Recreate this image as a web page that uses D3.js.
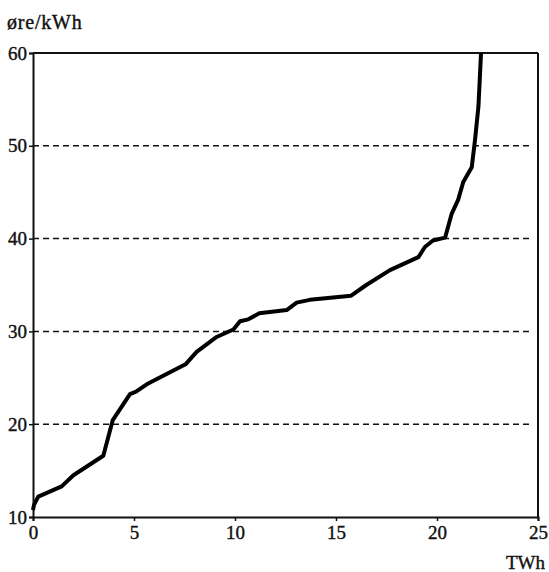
<!DOCTYPE html>
<html><head><meta charset="utf-8">
<script src="https://cdn.jsdelivr.net/npm/d3@7"></script>
<style>
html,body{margin:0;padding:0;background:#fff;}
</style></head>
<body><svg id="c" width="549" height="572"></svg>
<script>
const energyTWh = [0, 0.05, 0.26, 1.42, 2.0, 3.48, 3.95, 4.8, 5.1, 5.63, 7.55, 8.1, 9.09, 9.92, 10.25, 10.66, 11.2, 12.56, 13.05, 13.7, 15.75, 16.5, 17.67, 19.08, 19.4, 19.8, 20.4, 20.73, 21.05, 21.3, 21.72, 21.88, 22.05, 22.18];
const priceOre = [10.75, 11.3, 12.2, 13.3, 14.5, 16.6, 20.45, 23.25, 23.5, 24.3, 26.45, 27.8, 29.4, 30.2, 31.1, 31.3, 31.95, 32.3, 33.1, 33.4, 33.85, 35.0, 36.6, 38.0, 39.1, 39.8, 40.1, 42.7, 44.2, 46.1, 47.7, 50.6, 54.2, 60];
const xTicks = [0, 5, 10, 15, 20, 25];
const yTicks = [10, 20, 30, 40, 50, 60];
const gridValues = [20, 30, 40, 50];
const yLabel = "øre/kWh";
const xLabel = "TWh";

const FONT = "'Liberation Serif', 'Times New Roman', serif";
const svg = d3.select("#c");
const x = d3.scaleLinear().domain([0, 25]).range([33, 538]);
const y = d3.scaleLinear().domain([10, 60]).range([517, 53]);

svg.append("g").selectAll("line").data(gridValues).join("line")
  .attr("x1", x(0)).attr("x2", 533)
  .attr("y1", d => y(d)).attr("y2", d => y(d))
  .attr("stroke", "#111").attr("stroke-width", 1.5)
  .attr("stroke-dasharray", "6,4");

svg.append("line").attr("x1", x(0)).attr("x2", x(25)).attr("y1", y(60)).attr("y2", y(60))
  .attr("stroke", "#111").attr("stroke-width", 2);
svg.append("line").attr("x1", x(25)).attr("x2", x(25)).attr("y1", y(60)).attr("y2", y(10))
  .attr("stroke", "#111").attr("stroke-width", 2);

const xAxis = svg.append("g").attr("transform", `translate(0,${y(10)})`)
  .call(d3.axisBottom(x).tickValues(xTicks).tickSize(4).tickPadding(5).tickFormat(d3.format("d")));
const yAxis = svg.append("g").attr("transform", `translate(${x(0)},0)`)
  .call(d3.axisLeft(y).tickValues(yTicks).tickSize(4).tickPadding(2).tickFormat(d3.format("d")));
[xAxis, yAxis].forEach(g => {
  g.attr("font-family", FONT).attr("font-size", 19);
  g.select(".domain").attr("stroke", "#111").attr("stroke-width", 2);
  g.selectAll(".tick line").attr("stroke", "#111").attr("stroke-width", 1.5);
  g.selectAll("text").attr("fill", "#111").attr("stroke", "#111").attr("stroke-width", 0.4);
});

const pts = energyTWh.map((e, i) => [e, priceOre[i]]);
svg.append("path").datum(pts)
  .attr("d", d3.line().x(d => x(d[0])).y(d => y(d[1])))
  .attr("fill", "none").attr("stroke", "#000").attr("stroke-width", 4)
  .attr("stroke-linejoin", "round").attr("stroke-linecap", "butt");

svg.append("text").attr("x", 7).attr("y", 29).attr("font-family", FONT).attr("font-size", 20)
  .attr("letter-spacing", 0.8).attr("fill", "#111").attr("stroke", "#111").attr("stroke-width", 0.4).text(yLabel);
svg.append("text").attr("x", 545).attr("y", 569).attr("text-anchor", "end").attr("font-family", FONT).attr("font-size", 19)
  .attr("fill", "#111").attr("stroke", "#111").attr("stroke-width", 0.4).text(xLabel);
</script></body></html>
